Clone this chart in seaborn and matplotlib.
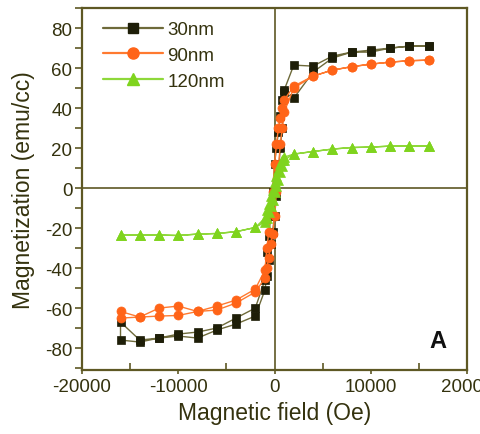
import matplotlib
matplotlib.use("Agg")
import matplotlib.pyplot as plt
import seaborn as sns
import numpy as np
import pandas as pd
from matplotlib.lines import Line2D
from matplotlib.ticker import MultipleLocator

# ---- data ----
H_desc = [16000, 14000, 12000, 10000, 8000, 6000, 4000, 2000, 1000, 800, 600, 400, 200, 0,
          -200, -400, -600, -800, -1000, -2000, -4000, -6000, -8000, -10000, -12000, -14000, -16000]
H_asc = H_desc[::-1]

m30_desc = [71, 71, 70, 69, 68, 66, 61, 61.5, 49, 44, 36, 28, 20, 12,
            -2, -14, -24, -32, -46, -60, -65, -70, -72, -73, -75, -76, -67]
m30_asc = [-76, -77, -75, -74, -75, -71, -68, -64, -51, -44, -36, -28, -22, -14,
           -4, 8, 20, 30, 48, 45, 58, 65, 68, 68, 70, 71, 71]

m90_desc = [64, 63.7, 63, 62, 60.7, 59, 56, 51, 44, 40, 35, 30, 22, 12,
            -2, -12, -22, -30, -41, -50.5, -56, -59, -61.7, -59, -60, -64.5, -61.7]
m90_asc = [-65, -64.5, -64, -63.7, -61.7, -61, -57.5, -52, -45, -40, -35, -28, -23, -14,
           -2, 10, 22, 30, 38, 50, 56, 59, 60.7, 62, 63, 63.7, 64]

m120_desc = [21, 21, 21, 20.5, 20.3, 19.5, 18.3, 17, 15.5, 14, 12, 9, 6, 3,
             -1, -4, -8, -11, -15, -19.7, -21.8, -22.7, -23, -23.7, -23.5, -23.5, -23.5]
m120_asc = [-23.5, -23.5, -23.5, -23.7, -23, -22.7, -21.8, -19.7, -17, -15, -12, -9, -6, -2,
            1, 4, 8, 11, 14, 17, 18.3, 19.5, 20.3, 20.5, 21, 21, 21]

labels = ["30nm", "90nm", "120nm"]
xticks = [-20000, -10000, 0, 10000, 20000]
yticks = [-80, -60, -40, -20, 0, 20, 40, 60, 80]

# ---- style ----
sns.set_style("white")
plt.rcParams['font.family'] = ['Liberation Sans', 'DejaVu Sans']

axis_col = "#5e5824"
text_col = "#34320e"

fig = plt.figure(figsize=(4.81, 4.35), dpi=100)
ax = fig.add_axes([0.1705, 0.147, 0.8005, 0.832])

styles = [
    dict(color="#1e1e08", line="#6e6a3a", marker="s", ms=5.5),
    dict(color="#ff6418", line="#ff7a30", marker="o", ms=6.5),
    dict(color="#7fd41e", line="#8ed83a", marker="^", ms=7),
]
series = [(m30_desc, m30_asc), (m90_desc, m90_asc), (m120_desc, m120_asc)]

handles = []
for lab, (md, ma), st in zip(labels, series, styles):
    df = pd.DataFrame({"H": H_desc + H_asc, "M": md + ma})
    sns.lineplot(data=df, x="H", y="M", sort=False, ax=ax, color=st["line"], lw=1.0,
                 marker=st["marker"], markersize=st["ms"], markerfacecolor=st["color"],
                 markeredgecolor=st["color"], markeredgewidth=0.5, estimator=None, zorder=3)
    handles.append(Line2D([], [], color=st["line"], lw=1.6, marker=st["marker"],
                          markersize=st["ms"] + 1.5, markerfacecolor=st["color"],
                          markeredgecolor=st["color"]))

ax.axhline(0, color=axis_col, lw=1.2, zorder=2)
ax.axvline(0, color=axis_col, lw=1.2, zorder=2)

ax.set_xlim(-20000, 20000)
ax.set_ylim(-91, 90)
ax.set_xticks(xticks)
ax.set_yticks(yticks)
ax.xaxis.set_minor_locator(MultipleLocator(5000))
ax.yaxis.set_minor_locator(MultipleLocator(10))
ax.set_xticklabels([str(t) for t in xticks])
ax.set_yticklabels([str(t) for t in yticks])

ax.tick_params(axis="x", which="major", direction="out", length=3, width=1.2,
               colors=axis_col, labelcolor=text_col, labelsize=13.5, pad=3)
ax.tick_params(axis="x", which="minor", direction="in", length=5, width=1.2, colors=axis_col)
ax.tick_params(axis="y", which="both", direction="out", length=5, width=1.2,
               colors=axis_col, labelcolor=text_col, labelsize=13.5, pad=2)
ax.tick_params(axis="both", which="both", bottom=True, left=True)

for sp in ax.spines.values():
    sp.set_color(axis_col)
    sp.set_linewidth(1.6)

ax.set_xlabel("Magnetic field (Oe)", fontsize=16.5, color=text_col, labelpad=4)
ax.set_ylabel("Magnetization (emu/cc)", fontsize=16.5, color=text_col, labelpad=7)

leg = ax.legend(handles, labels, loc="upper left", frameon=False, fontsize=13.5,
                handlelength=3.2, handletextpad=0.25, labelspacing=0.45,
                borderaxespad=0.3, bbox_to_anchor=(0.02, 1.0))
for t in leg.get_texts():
    t.set_color(text_col)

ax.text(0.925, 0.05, "A", transform=ax.transAxes, fontsize=17, fontweight="bold",
        color="#111111", ha="center", va="bottom")

fig.savefig("out.png", dpi=100)
